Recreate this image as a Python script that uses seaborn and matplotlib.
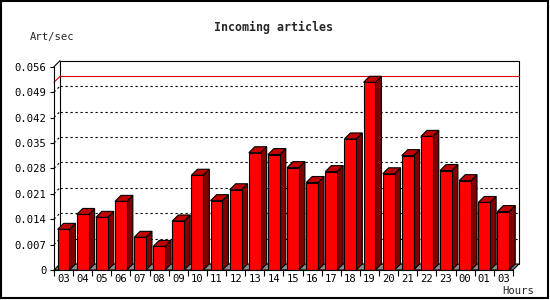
import numpy as np
import pandas as pd
import matplotlib
matplotlib.use("Agg")
import matplotlib.pyplot as plt
from matplotlib.patches import Polygon, Rectangle
import seaborn as sns

# ---- data ----
hours = ["03", "04", "05", "06", "07", "08", "09", "10", "11", "12", "13", "14",
         "15", "16", "17", "18", "19", "20", "21", "22", "23", "00", "01", "03"]
rates = [0.0112, 0.0153, 0.0145, 0.0189, 0.0090, 0.0065, 0.0135, 0.0261,
         0.0191, 0.0221, 0.0323, 0.0318, 0.0282, 0.0241, 0.0271, 0.0361,
         0.0517, 0.0265, 0.0315, 0.0368, 0.0274, 0.0246, 0.0186, 0.0161]
yticks = [0, 0.007, 0.014, 0.021, 0.028, 0.035, 0.042, 0.049, 0.056]
ytick_labels = ["0", "0.007", "0.014", "0.021", "0.028", "0.035", "0.042", "0.049", "0.056"]
title = "Incoming articles"
ylabel = "Art/sec"
xlabel = "Hours"

sns.set_style("white")
plt.rcParams["font.family"] = ["DejaVu Sans Mono", "DejaVu Sans"]

W, H = 550, 300
fig = plt.figure(figsize=(W / 100, H / 100), dpi=100)

# axes pixel box (front y-axis at x=54, floor front at y=270, back wall top at 61)
left_px, right_px, bot_px, top_px = 54, 520, 270, 61
ax = fig.add_axes([left_px / W, (H - bot_px) / H, (right_px - left_px) / W, (bot_px - top_px) / H])

n = len(hours)
depth_px = 6
px_per_cat = 19.12
px_per_unit = (bot_px - 66.7) / yticks[-1]
dx = depth_px / px_per_cat
dy = depth_px / px_per_unit
x_front_right = n - 0.5
ax.set_xlim(-0.5, -0.5 + (right_px - left_px) / px_per_cat)
ax.set_ylim(0, (bot_px - top_px) / px_per_unit)

df = pd.DataFrame({"slot": np.arange(n), "hour": hours, "rate": rates})

line_px = 0.8
# back wall outline
xb0, xb1 = -0.5 + dx, x_front_right + dx
ytop = yticks[-1] + dy
ax.plot([xb0, xb0, xb1, xb1], [dy, ytop, ytop, dy], color="black", lw=line_px, zorder=1, clip_on=False)
ax.plot([-0.5, xb0], [yticks[-1], ytop], color="black", lw=line_px, zorder=1, clip_on=False)
# dotted grid on back wall and left wall
for t in yticks[1:-1]:
    ax.plot([xb0, xb1], [t + dy, t + dy], color="black", lw=line_px, ls=(0, (2, 2.5)), zorder=1)
    ax.plot([-0.5, xb0], [t, t + dy], color="black", lw=line_px, ls=(0, (2, 2.5)), zorder=1, clip_on=False)
# max line (red)
mx = max(rates)
ax.plot([xb0, xb1], [mx + dy, mx + dy], color="#e00000", lw=line_px, zorder=1.5)
ax.plot([-0.5, xb0], [mx, mx + dy], color="#e00000", lw=line_px, zorder=1.5, clip_on=False)

# floor
floor = Polygon([(-0.5, 0), (x_front_right, 0), (xb1, dy), (xb0, dy)], closed=True,
                facecolor="#8c8c8c", edgecolor="black", lw=line_px, zorder=1.8, clip_on=False)
ax.add_patch(floor)

# bars (front faces)
sns.barplot(data=df, x="slot", y="rate", color="#ff0000", saturation=1, width=0.62,
            edgecolor="black", linewidth=line_px, ax=ax, zorder=3)

for p in list(ax.patches):
    if p is floor:
        continue
    x0 = p.get_x()
    x1 = x0 + p.get_width()
    h = p.get_height()
    side = Polygon([(x1, 0), (x1 + dx, dy), (x1 + dx, h + dy), (x1, h)], closed=True,
                   facecolor="#800000", edgecolor="black", lw=line_px, zorder=2.9, clip_on=False)
    top = Polygon([(x0, h), (x1, h), (x1 + dx, h + dy), (x0 + dx, h + dy)], closed=True,
                  facecolor="#c00000", edgecolor="black", lw=line_px, zorder=2.9, clip_on=False)
    ax.add_patch(side)
    ax.add_patch(top)

ax.set_xlim(-0.5, -0.5 + (right_px - left_px) / px_per_cat)
ax.set_ylim(0, (bot_px - top_px) / px_per_unit)

# spines
for s in ["top", "right"]:
    ax.spines[s].set_visible(False)
ax.spines["left"].set_bounds(0, yticks[-1])
ax.spines["bottom"].set_bounds(-0.5, x_front_right)
for s in ["left", "bottom"]:
    ax.spines[s].set_linewidth(line_px)
    ax.spines[s].set_color("black")
    ax.spines[s].set_zorder(4)

# ticks
ax.set_yticks(yticks)
ax.set_yticklabels(ytick_labels)
ax.set_xticks(np.arange(n))
ax.set_xticklabels(hours)
ax.set_xticks(np.arange(n + 1) - 0.5, minor=True)
ax.tick_params(axis="y", which="major", left=True, length=3, width=line_px, pad=2.5,
               labelsize=7.6, colors="black")
ax.tick_params(axis="x", which="major", bottom=False, length=0, pad=3, labelsize=7.6, colors="black")
ax.tick_params(axis="x", which="minor", bottom=True, length=4, width=line_px, color="black")
ax.set_xlabel("")
ax.set_ylabel("")

# texts
fig.text(274 / W, 1 - 27 / H, title, ha="center", va="center", fontsize=8.4, fontweight="bold")
fig.text(30 / W, 1 - 37 / H, ylabel, ha="left", va="center", fontsize=7.6)
fig.text(534 / W, 1 - 291 / H, xlabel, ha="right", va="center", fontsize=7.6)

# image border
fig.patches.append(Rectangle((1 / W, 2 / H), 547 / W, 297 / H, transform=fig.transFigure,
                             fill=False, edgecolor="black", lw=1.5))

fig.savefig("out.png", dpi=100, facecolor="white")
